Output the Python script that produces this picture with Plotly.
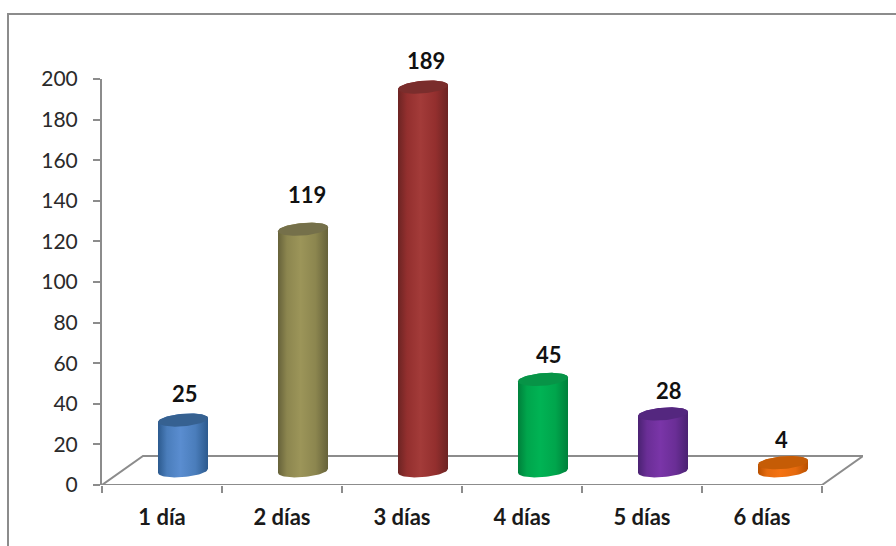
import numpy as np
import plotly.graph_objects as go

categories = ["1 día", "2 días", "3 días", "4 días", "5 días", "6 días"]
values = [25, 119, 189, 45, 28, 4]
y_ticks = list(range(0, 201, 20))

edge_colors = ["#2c5a8e", "#66623a", "#6c2423", "#00803b", "#4a2272", "#b85000"]
side_colors = ["#4a7dbb", "#8c864f", "#932f2e", "#00a54c", "#6a2e96", "#e56a0e"]
mid_colors = ["#5a8dd0", "#9c9559", "#a33b39", "#00b354", "#7a35a8", "#f47212"]
cap_colors = ["#366191", "#75704a", "#7a2d2c", "#079447", "#54277f", "#c55c06"]
label_lift_px = [27, 35, 27, 25, 23, 23]
label_dx_px = [2, 4, 3, 6, 6, -2]

W, H = 896, 546
LEFT, RIGHT, TOP, BOTTOM = 102, 863, 79, 485
CAT_PX = 120.0
UNIT_PX = (BOTTOM - TOP) / 200.0
X0 = -0.5
X1 = X0 + (RIGHT - LEFT) / CAT_PX
DEPTH_X = 41 / CAT_PX
DEPTH_Y = 29 / UNIT_PX

BAR_SHIFT = 21 / CAT_PX
A = 25 / CAT_PX
B = 6.3 / UNIT_PX
TILT = 0.08 * 25 / UNIT_PX
BASE = 7.0
n = len(categories)


def ellipse(cx, cy, t):
    return cx + A * np.cos(t), cy + B * np.sin(t) + TILT * np.cos(t)


fig = go.Figure()

# floor parallelogram and front axis
fig.add_trace(go.Scatter(
    x=[X0, X0 + DEPTH_X, X0 + n + DEPTH_X, X0 + n, X0],
    y=[0, DEPTH_Y, DEPTH_Y, 0, 0],
    mode="lines", line=dict(color="#8c8c8c", width=2),
    hoverinfo="skip", showlegend=False, cliponaxis=False))

for i, v in enumerate(values):
    cx = i + BAR_SHIFT
    top = BASE + v
    lower = np.linspace(np.pi, 2 * np.pi, 40)
    upper = np.linspace(0, np.pi, 40)
    bx, by = ellipse(cx, BASE, lower)
    tx, ty = ellipse(cx, top, upper)
    fig.add_trace(go.Scatter(
        x=np.r_[bx, tx], y=np.r_[by, ty], mode="lines", fill="toself",
        line=dict(width=0),
        fillgradient=dict(type="horizontal", colorscale=[
            [0, edge_colors[i]], [0.18, side_colors[i]], [0.45, mid_colors[i]],
            [0.75, side_colors[i]], [1, edge_colors[i]]]),
        hoverinfo="skip", showlegend=False, cliponaxis=False))
    cap = np.linspace(0, 2 * np.pi, 80)
    cxs, cys = ellipse(cx, top, cap)
    fig.add_trace(go.Scatter(
        x=cxs, y=cys, mode="lines", fill="toself", fillcolor=cap_colors[i],
        line=dict(width=0), hoverinfo="skip", showlegend=False, cliponaxis=False))
    fig.add_annotation(
        x=cx, y=top, xref="x", yref="y", text=str(v), showarrow=False,
        xshift=label_dx_px[i], yshift=label_lift_px[i],
        font=dict(family="Lato", size=22, color="#111111", weight="bold"))

fig.update_layout(
    width=W, height=H, autosize=False,
    margin=dict(l=LEFT, r=W - RIGHT, t=TOP, b=H - BOTTOM),
    paper_bgcolor="white", plot_bgcolor="rgba(0,0,0,0)",
    showlegend=False,
    font=dict(family="Lato", color="#222222"),
    xaxis=dict(
        range=[X0, X1], showgrid=False, zeroline=False, showline=False,
        tickmode="array", tickvals=list(range(n)), ticktext=categories,
        ticks="", ticklabelstandoff=17,
        tickfont=dict(family="Lato", size=22, color="#1a1a1a", weight="bold"),
        minor=dict(tickmode="array", tickvals=[X0 + k for k in range(n + 1)],
                   ticks="outside", ticklen=7, tickwidth=2, tickcolor="#8c8c8c",
                   showgrid=False),
    ),
    yaxis=dict(
        range=[0, 200], showgrid=False, zeroline=False, showline=True,
        linecolor="#8c8c8c", linewidth=2, tickmode="array", tickvals=y_ticks,
        ticks="outside", ticklen=7, tickwidth=2, tickcolor="#8c8c8c",
        ticklabelstandoff=11,
        tickfont=dict(family="Lato", size=21, color="#2a2a2a"),
    ),
    shapes=[dict(
        type="path", xref="paper", yref="paper",
        path="M {0},{1} L {0},{2} L {3},{2}".format(
            (8 - LEFT) / (RIGHT - LEFT),
            (BOTTOM - H) / (BOTTOM - TOP),
            (BOTTOM - 14) / (BOTTOM - TOP),
            (W - LEFT) / (RIGHT - LEFT)),
        line=dict(color="#8c8c8c", width=2))],
)

fig.write_html("out.html", config=dict(displayModeBar=False),
               post_script="document.body.style.margin='0';")
